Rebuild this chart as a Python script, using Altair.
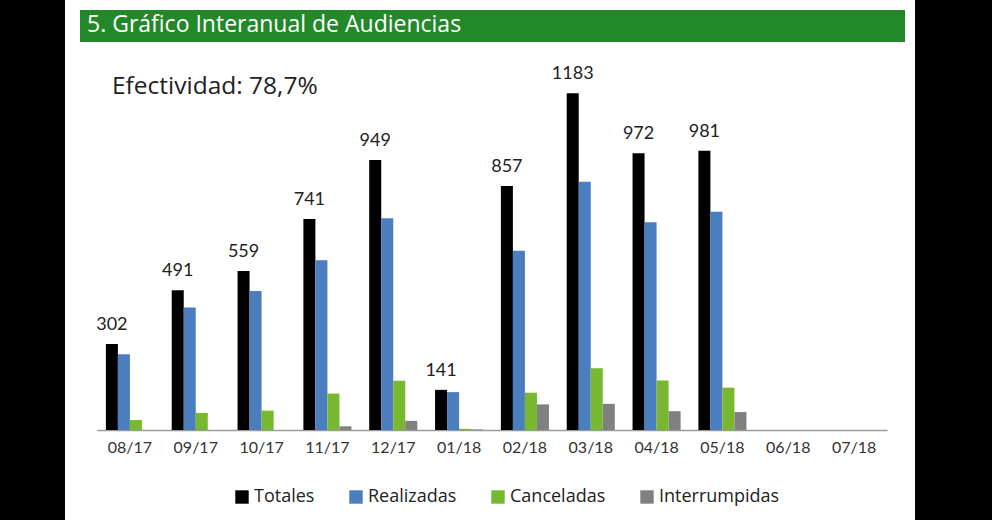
import altair as alt
import pandas as pd

# Monthly hearing counts by outcome
meses = ["08/17", "09/17", "10/17", "11/17", "12/17", "01/18",
         "02/18", "03/18", "04/18", "05/18", "06/18", "07/18"]
series = ["Totales", "Realizadas", "Canceladas", "Interrumpidas"]

totales = [302, 491, 559, 741, 949, 141, 857, 1183, 972, 981, None, None]
realizadas = [266, 430, 488, 596, 744, 133, 630, 872, 730, 767, None, None]
canceladas = [35, 60, 68, 128, 173, 4, 131, 217, 174, 149, None, None]
interrumpidas = [0, 0, 0, 13, 32, 2, 90, 92, 66, 63, None, None]

colores = ["#000000", "#4A7EBF", "#77B82F", "#808080"]

titulo = "5. Gráfico Interanual de Audiencias"
efectividad = "Efectividad: 78,7%"

rows = []
for serie, valores in zip(series, [totales, realizadas, canceladas, interrumpidas]):
    for mes, v in zip(meses, valores):
        rows.append({"mes": mes, "serie": serie, "valor": v})
df = pd.DataFrame(rows)
df_tot = df[(df["serie"] == "Totales") & df["valor"].notna()]

W, H = 790, 370
FONT = "Lato"
FONT_WIDE = "Open Sans"

x = alt.X(
    "mes:N",
    sort=meses,
    scale=alt.Scale(domain=meses, paddingInner=0.27, paddingOuter=0.135),
    axis=alt.Axis(
        title=None, labelAngle=0, ticks=False, domainColor="#9A9A9A",
        domainWidth=1.5, labelFont=FONT, labelFontSize=16, labelColor="#333333",
        labelPadding=9,
    ),
)
xo = alt.XOffset("serie:N", sort=series,
                 scale=alt.Scale(domain=series, paddingInner=0, paddingOuter=0))
y = alt.Y("valor:Q", scale=alt.Scale(domain=[0, 1300], nice=False), axis=None)

bars = alt.Chart(df).mark_bar().encode(
    x=x,
    xOffset=xo,
    y=y,
    color=alt.Color(
        "serie:N",
        sort=series,
        scale=alt.Scale(domain=series, range=colores),
        legend=alt.Legend(
            title=None, orient="none", direction="horizontal",
            legendX=136, legendY=428, symbolType="square", symbolSize=180,
            symbolStrokeWidth=0, labelFont=FONT_WIDE, labelFontSize=18,
            labelColor="#222222", columnPadding=32, labelOffset=3, padding=0,
        ),
    ),
)

labels = alt.Chart(df_tot).mark_text(
    baseline="alphabetic", dy=-14, font=FONT, fontSize=18, color="#222222"
).encode(x=x, xOffset=xo, y=y, text=alt.Text("valor:Q", format="d"))

one = alt.Data(values=[{}])

# dark side bands framing the white page
borde_izq = alt.Chart(one).mark_rect(color="#000000").encode(
    x=alt.value(-97), x2=alt.value(-32), y=alt.value(-60), y2=alt.value(460))
borde_der = alt.Chart(one).mark_rect(color="#000000").encode(
    x=alt.value(818), x2=alt.value(895), y=alt.value(-60), y2=alt.value(460))

# green header band with the section title
cabecera = alt.Chart(one).mark_rect(color="#23882A").encode(
    x=alt.value(-17), x2=alt.value(808), y=alt.value(-50), y2=alt.value(-18))
texto_titulo = alt.Chart(one).mark_text(
    text=titulo, align="left", baseline="alphabetic", font=FONT_WIDE,
    fontSize=23, color="#FFFFFF"
).encode(x=alt.value(-10), y=alt.value(-28))

texto_efect = alt.Chart(one).mark_text(
    text=efectividad, align="left", baseline="alphabetic", font=FONT_WIDE,
    fontSize=24.5, color="#222222"
).encode(x=alt.value(15), y=alt.value(34))

chart = alt.layer(
    borde_izq, borde_der, cabecera, texto_titulo, texto_efect, bars, labels
).properties(
    width=W, height=H,
    autosize=alt.AutoSizeParams(type="none"),
    padding={"left": 97, "top": 60, "right": 105, "bottom": 90},
    background="#FFFFFF",
).configure_view(stroke=None)

chart.save("out.html", embed_options={"renderer": "svg", "actions": False})
